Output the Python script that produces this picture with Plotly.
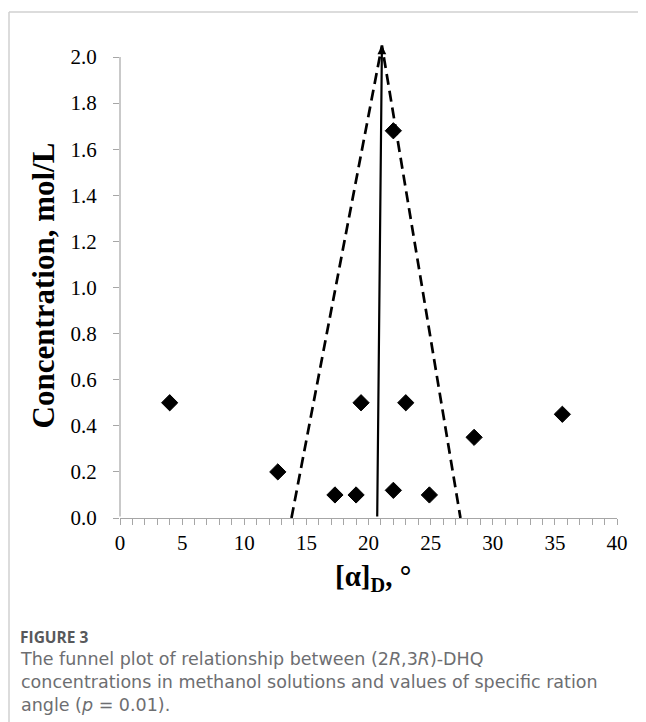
import plotly.graph_objects as go

# ---- data ----
alpha_d = [4.0, 12.7, 17.3, 19.0, 19.4, 22.0, 22.0, 23.0, 24.9, 28.5, 35.6]
conc = [0.50, 0.20, 0.10, 0.10, 0.50, 0.12, 1.68, 0.50, 0.10, 0.35, 0.45]

funnel_x = [13.8, 21.08, 27.4]
funnel_y = [0.0, 2.05, 0.0]
mean_x = [20.7, 21.08]
mean_y = [0.0, 2.05]

x_ticks = [0, 5, 10, 15, 20, 25, 30, 35, 40]
y_ticks = [0.0, 0.2, 0.4, 0.6, 0.8, 1.0, 1.2, 1.4, 1.6, 1.8, 2.0]
y_ticktext = ["%.1f" % v for v in y_ticks]

caption_head = "FIGURE 3"
caption_body = [
    "The funnel plot of relationship between (2<i>R</i>,3<i>R</i>)-DHQ",
    "concentrations in methanol solutions and values of specific ration",
    "angle (<i>p</i> = 0.01).",
]

W, H = 646, 722
OFF = 8  # page body margin
L, T = 112, 33
PW, PH = 497, 477
R, B = W - L - PW, H - T - PH
Y_TOP = PH / 230.5

def px(page_x):
    return (page_x - OFF - L) / PW

def py(page_y):
    return (T + PH - (page_y - OFF)) / PH

AX = "#a6a6a6"
SERIF = "Liberation Serif, Times New Roman, serif"

fig = go.Figure()

fig.add_trace(go.Scatter(
    x=funnel_x, y=funnel_y, mode="lines",
    line=dict(color="black", width=2.7, dash="11px,6px"),
    hoverinfo="skip", showlegend=False))

fig.add_trace(go.Scatter(
    x=alpha_d, y=conc, mode="markers",
    marker=dict(symbol="diamond", size=12.5, color="black",
                line=dict(color="black", width=1)),
    cliponaxis=False, showlegend=False))

annotations = []
# y axis line (0 -> 2.0)
annotations.append(dict(x=0, y=y_ticks[-1], ax=0, ay=y_ticks[0],
                        xref="x", yref="y", axref="x", ayref="y",
                        text="", showarrow=True, arrowhead=0,
                        arrowwidth=1.2, arrowcolor=AX, standoff=0))
# mean arrow
annotations.append(dict(x=mean_x[1], y=mean_y[1], ax=mean_x[0], ay=mean_y[0],
                        xref="x", yref="y", axref="x", ayref="y",
                        text="", showarrow=True, arrowhead=2, arrowsize=0.8,
                        arrowwidth=2.2, arrowcolor="black", standoff=0))
# axis titles
annotations.append(dict(x=px(23), y=py(286), xref="paper", yref="paper",
                        text="Concentration, mol/L", textangle=-90,
                        showarrow=False,
                        font=dict(family=SERIF, size=31, color="black", weight="bold")))
annotations.append(dict(x=px(373), y=py(598), xref="paper", yref="paper",
                        text="[α]<sub>D</sub>, °", showarrow=False,
                        font=dict(family=SERIF, size=29, color="black", weight="bold")))
# caption
annotations.append(dict(x=px(18), y=py(637), xref="paper", yref="paper",
                        xanchor="left", yanchor="middle", text=caption_head,
                        showarrow=False, align="left",
                        font=dict(family="Open Sans, sans-serif", size=15.5,
                                  color="#58595b", weight="bold")))
annotations.append(dict(x=px(18), y=py(681.5), xref="paper", yref="paper",
                        xanchor="left", yanchor="middle", text="<br>".join(caption_body),
                        showarrow=False, align="left",
                        font=dict(family="DejaVu Sans, sans-serif", size=17.5,
                                  color="#6d6e71")))

shapes = [
    dict(type="line", xref="paper", yref="paper",
         x0=px(9), x1=px(9), y0=py(12), y1=py(740), line=dict(color="#d0d0d0", width=1.5)),
    dict(type="line", xref="paper", yref="paper",
         x0=px(9), x1=px(660), y0=py(12), y1=py(12), line=dict(color="#d0d0d0", width=1.5)),
]

fig.update_layout(
    width=W, height=H,
    margin=dict(l=L, r=R, t=T, b=B),
    paper_bgcolor="white", plot_bgcolor="white",
    showlegend=False,
    annotations=annotations, shapes=shapes,
    xaxis=dict(range=[0, 40], tickvals=x_ticks, ticks="outside", ticklen=6,
               tickcolor=AX, tickwidth=1.2, showline=True, linecolor=AX, linewidth=1.2,
               showgrid=False, zeroline=False,
               minor=dict(dtick=1, ticks="outside", ticklen=6, tickcolor=AX, tickwidth=1.2,
                          showgrid=False),
               tickfont=dict(family=SERIF, size=21, color="black")),
    yaxis=dict(range=[0, Y_TOP], tickvals=y_ticks, ticktext=y_ticktext,
               ticks="outside", ticklen=6, tickcolor=AX, tickwidth=1.2,
               showline=False, showgrid=False, zeroline=False,
               ticklabelstandoff=12,
               tickfont=dict(family=SERIF, size=21, color="black")),
)

fig.write_html("out.html")
